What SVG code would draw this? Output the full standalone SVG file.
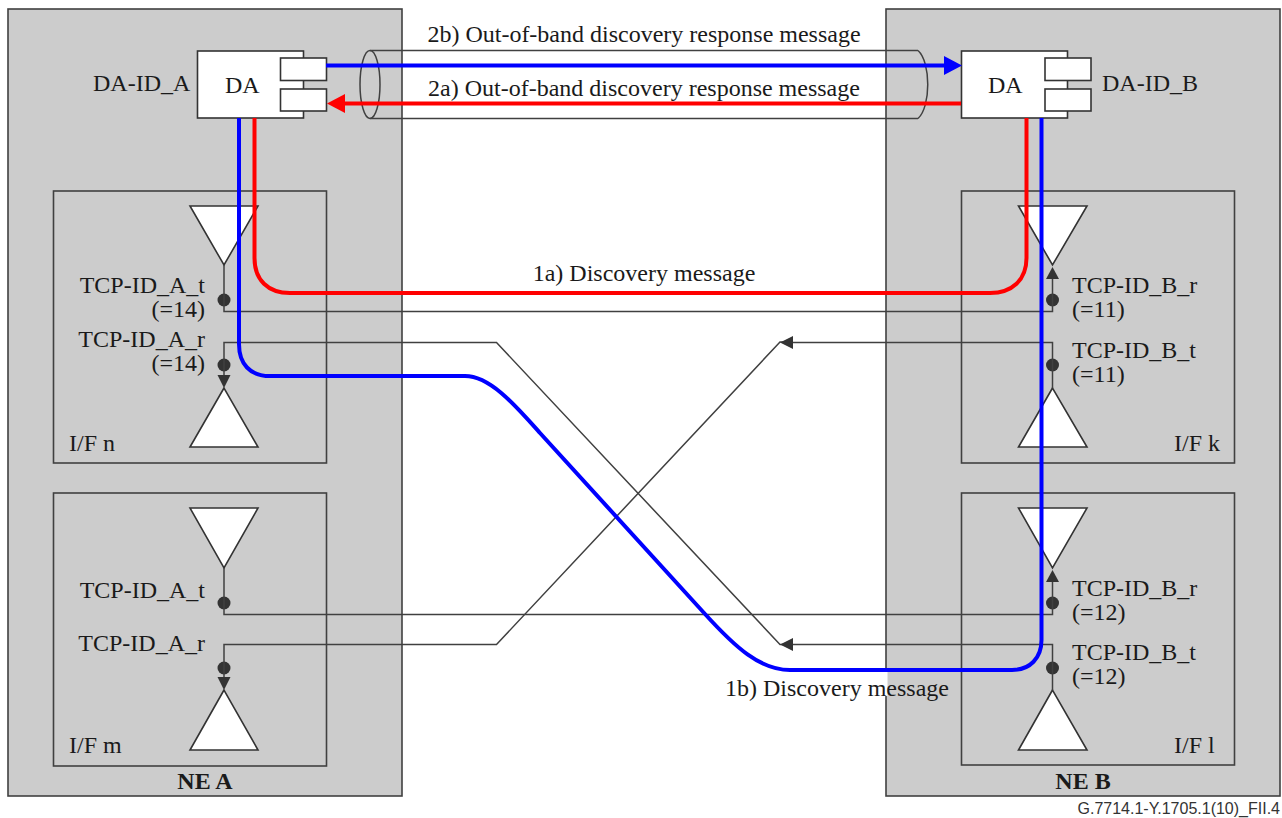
<svg xmlns="http://www.w3.org/2000/svg" width="1282" height="818" viewBox="0 0 1282 818">
<style>
text{font-family:"Liberation Serif","Times New Roman",serif;font-size:24px;fill:#1a1a1a}
.b{font-weight:bold}
.c{font-family:"Liberation Sans",Arial,sans-serif;font-size:16px;fill:#333}
.ne{fill:#cccccc;stroke:#404040;stroke-width:1.6}
.if{fill:none;stroke:#404040;stroke-width:1.6}
.w{fill:#fff;stroke:#333;stroke-width:1.6}
.l{fill:none;stroke:#404040;stroke-width:1.5}
.blue{fill:none;stroke:#0000ff;stroke-width:4}
.red{fill:none;stroke:#ff0000;stroke-width:4}
.d{fill:#333}
</style>
<rect width="1282" height="818" fill="#fff"/>
<g id="ne-a"><rect class="ne" x="8" y="9" width="394" height="787"/></g>
<g id="ne-b"><rect class="ne" x="886" y="9" width="394" height="787"/><rect x="884.500" y="672" width="3" height="24" fill="#fff"/></g>
<g id="tunnel">
<path class="l" d="M370 50.500H918M370 118.500H918M918 50.500C931 62 931 107 918 118.500"/>
<ellipse class="l" cx="370" cy="84.500" rx="10" ry="34"/>
</g>
<g id="if-n"><rect class="if" x="53.500" y="191" width="273" height="272"/>
<polygon class="w" points="190,206 258,206 224,265"/><polygon class="w" points="224,388 190,447 258,447"/>
<circle class="d" cx="224" cy="300" r="6.500"/><circle class="d" cx="224" cy="365" r="6.500"/>
</g>
<g id="if-m"><rect class="if" x="53.500" y="493" width="273" height="273"/>
<polygon class="w" points="190,508 258,508 224,568"/><polygon class="w" points="224,690 190,750 258,750"/>
<circle class="d" cx="224" cy="603" r="6.500"/><circle class="d" cx="224" cy="668" r="6.500"/>
</g>
<g id="if-k"><rect class="if" x="961.500" y="191" width="273" height="272"/>
<polygon class="w" points="1018.500,206 1087,206 1052.500,265"/><polygon class="w" points="1052.500,388 1018.500,447 1087,447"/>
<circle class="d" cx="1052.500" cy="300" r="6.500"/><circle class="d" cx="1052.500" cy="365" r="6.500"/>
</g>
<g id="if-l"><rect class="if" x="961.500" y="493" width="273" height="272"/>
<polygon class="w" points="1018.500,508 1087,508 1052.500,568"/><polygon class="w" points="1052.500,690 1018.500,750 1087,750"/>
<circle class="d" cx="1052.500" cy="603" r="6.500"/><circle class="d" cx="1052.500" cy="668" r="6.500"/>
</g>
<g id="da-a"><rect class="w" x="197.500" y="51" width="106" height="67"/><rect class="w" x="280.500" y="58" width="46" height="22.500"/><rect class="w" x="280.500" y="89" width="46" height="22"/></g>
<g id="da-b"><rect class="w" x="961.500" y="51" width="106" height="67"/><rect class="w" x="1045" y="58" width="46" height="22.500"/><rect class="w" x="1045" y="89" width="46" height="22"/></g>
<g id="connectors">
<path class="l" d="M224 265V311.500H1052.500V279"/>
<path class="l" d="M224 677V644.500H496.500L780 342H793"/>
<path class="l" d="M224 377V342.500H496.500L780 644.500H793"/>
<path class="l" d="M793 342.500H1052.500V388"/>
<path class="l" d="M793 644.500H1052.500V690"/>
<path class="l" d="M224 568V614.500H1052.500V581"/>
<polygon class="d" points="780,342.500 793,336 793,349"/>
<polygon class="d" points="780,644.500 793,638 793,651"/>
<polygon class="d" points="224,388 217.500,375 230.500,375"/>
<polygon class="d" points="224,690 217.500,677 230.500,677"/>
<polygon class="d" points="1052.500,267 1046,279 1059,279"/>
<polygon class="d" points="1052.500,570 1046,582 1059,582"/>
<path class="blue" d="M326 65.500H948"/>
<polygon fill="#0000ff" points="962,65.500 944,56 944,75"/>
<path class="red" d="M961 103.500H342"/>
<polygon fill="#ff0000" points="327,103.500 345,94 345,113"/>
<path class="blue" d="M239 118V344C239 364 250 376 270 376H465C490 376 515 405 540 433L705 614C735 647 760 670 790 670H1012C1030 670 1041.500 658 1041.500 640V118"/>
<path class="red" d="M254.500 118V258C254.500 280 268 293 290 293H990C1012 293 1026.500 280 1026.500 258V118"/>
</g>
<g id="labels">
<text x="644" y="41.500" text-anchor="middle">2b) Out-of-band discovery response message</text>
<text x="644" y="95.500" text-anchor="middle">2a) Out-of-band discovery response message</text>
<text x="93" y="90.500">DA-ID_A</text>
<text x="225" y="93">DA</text>
<text x="988" y="93">DA</text>
<text x="1102" y="90.500">DA-ID_B</text>
<text x="644" y="281" text-anchor="middle">1a) Discovery message</text>
<text x="205" y="293" text-anchor="end">TCP-ID_A_t</text>
<text x="205" y="316.500" text-anchor="end">(=14)</text>
<text x="205" y="347" text-anchor="end">TCP-ID_A_r</text>
<text x="205" y="371" text-anchor="end">(=14)</text>
<text x="205" y="598" text-anchor="end">TCP-ID_A_t</text>
<text x="205" y="651" text-anchor="end">TCP-ID_A_r</text>
<text x="1072" y="293">TCP-ID_B_r</text>
<text x="1072" y="316.500">(=11)</text>
<text x="1072" y="358">TCP-ID_B_t</text>
<text x="1072" y="381.500">(=11)</text>
<text x="1072" y="596">TCP-ID_B_r</text>
<text x="1072" y="619.500">(=12)</text>
<text x="1072" y="660">TCP-ID_B_t</text>
<text x="1072" y="684">(=12)</text>
<text x="69" y="450.500">I/F n</text>
<text x="69" y="753">I/F m</text>
<text x="1174" y="450.500">I/F k</text>
<text x="1174" y="753">I/F l</text>
<text class="b" x="205" y="788.500" text-anchor="middle">NE A</text>
<text class="b" x="1083" y="788.500" text-anchor="middle">NE B</text>
<text x="725" y="695.500">1b) Discovery message</text>
<text class="c" x="1280" y="814" text-anchor="end">G.7714.1-Y.1705.1(10)_FII.4</text>
</g>
</svg>
